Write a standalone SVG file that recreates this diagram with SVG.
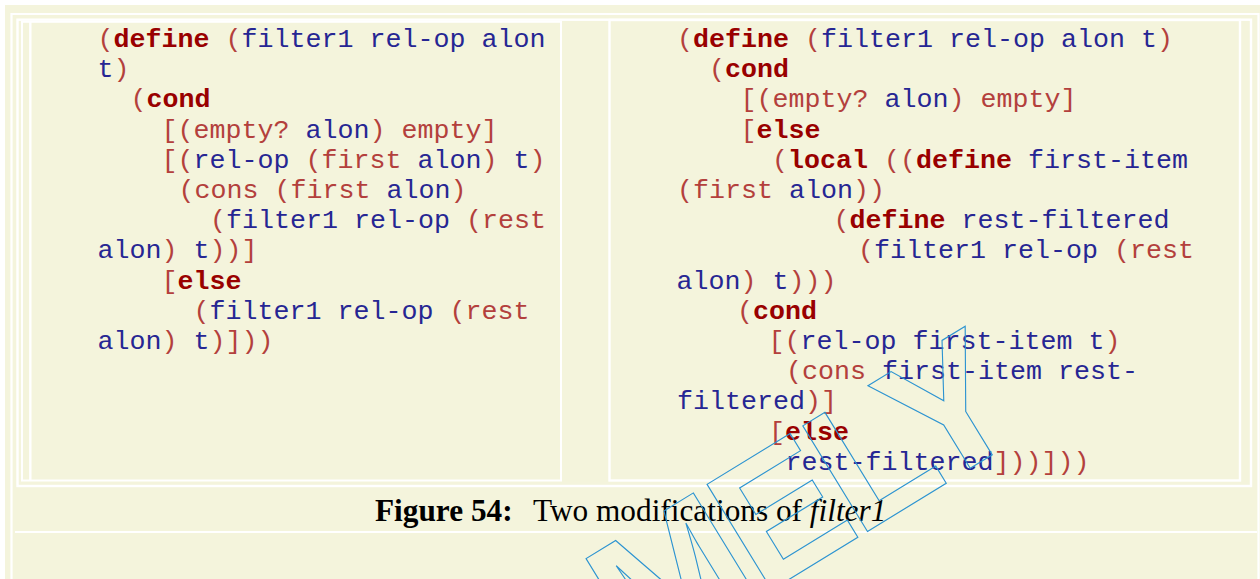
<svg xmlns="http://www.w3.org/2000/svg" width="1260" height="579" viewBox="0 0 1260 579">
<style>
.bg{fill:#f4f4dc}
.ln{fill:none;stroke:#ffffff}
.c{font-family:"Liberation Mono","Courier New",monospace;font-size:26.67px;white-space:pre}
.b{fill:#262693}
.r{fill:#b3403c}
.k{fill:#990000;font-weight:bold}
.cap{font-family:"Liberation Serif","Times New Roman",serif;font-size:31.3px;fill:#000000;white-space:pre}
.wm{font-family:"Liberation Sans",Arial,sans-serif;font-weight:bold;font-size:180px;fill:none;stroke:#2b93d1;stroke-width:1.1}
</style>
<rect x="0" y="0" width="1260" height="579" fill="#ffffff"/>
<rect class="bg" x="5" y="5" width="1255" height="574"/>
<g id="frames">
<path class="ln" stroke-width="2.2" d="M11.5 579 V14 H1258.5 V579"/>
<rect class="ln" stroke-width="2.4" x="17.5" y="19.7" width="1233.5" height="466.3"/>
<path class="ln" stroke-width="2" d="M15 532 H1257"/>
</g>
<g id="left-cell">
<rect class="ln" stroke-width="2" x="22" y="21.8" width="539" height="458.7"/>
<line class="ln" stroke-width="2.4" x1="30.3" y1="22" x2="30.3" y2="480"/>
<text class="c" y="47"><tspan x="97.5" class="r">(</tspan><tspan class="k">define</tspan><tspan class="r"> (</tspan><tspan class="b">filter1 rel-op alon</tspan></text>
<text class="c" y="77.2"><tspan x="97.5" class="b">t</tspan><tspan class="r">)</tspan></text>
<text class="c" y="107.4"><tspan x="130.5" class="r">(</tspan><tspan class="k">cond</tspan></text>
<text class="c" y="137.6"><tspan x="161.5" class="r">[(empty?</tspan><tspan class="b"> alon</tspan><tspan class="r">) empty]</tspan></text>
<text class="c" y="167.8"><tspan x="161.5" class="r">[(</tspan><tspan class="b">rel-op</tspan><tspan class="r"> (first</tspan><tspan class="b"> alon</tspan><tspan class="r">)</tspan><tspan class="b"> t</tspan><tspan class="r">)</tspan></text>
<text class="c" y="198"><tspan x="178.5" class="r">(cons (first</tspan><tspan class="b"> alon</tspan><tspan class="r">)</tspan></text>
<text class="c" y="228.2"><tspan x="210" class="r">(</tspan><tspan class="b">filter1 rel-op</tspan><tspan class="r"> (rest</tspan></text>
<text class="c" y="258.4"><tspan x="97.5" class="b">alon</tspan><tspan class="r">)</tspan><tspan class="b"> t</tspan><tspan class="r">))]</tspan></text>
<text class="c" y="288.6"><tspan x="161.5" class="r">[</tspan><tspan class="k">else</tspan></text>
<text class="c" y="318.8"><tspan x="193.5" class="r">(</tspan><tspan class="b">filter1 rel-op</tspan><tspan class="r"> (rest</tspan></text>
<text class="c" y="349"><tspan x="97.5" class="b">alon</tspan><tspan class="r">)</tspan><tspan class="b"> t</tspan><tspan class="r">)]))</tspan></text>
</g>
<g id="right-cell">
<rect class="ln" stroke-width="2.4" x="609.5" y="20" width="630.5" height="460.5"/>
<text class="c" y="47"><tspan x="677" class="r">(</tspan><tspan class="k">define</tspan><tspan class="r"> (</tspan><tspan class="b">filter1 rel-op alon t</tspan><tspan class="r">)</tspan></text>
<text class="c" y="77.2"><tspan x="709" class="r">(</tspan><tspan class="k">cond</tspan></text>
<text class="c" y="107.4"><tspan x="740.5" class="r">[(empty?</tspan><tspan class="b"> alon</tspan><tspan class="r">) empty]</tspan></text>
<text class="c" y="137.6"><tspan x="740.5" class="r">[</tspan><tspan class="k">else</tspan></text>
<text class="c" y="167.8"><tspan x="772" class="r">(</tspan><tspan class="k">local</tspan><tspan class="r"> ((</tspan><tspan class="k">define</tspan><tspan class="b"> first-item</tspan></text>
<text class="c" y="198"><tspan x="677" class="r">(first</tspan><tspan class="b"> alon</tspan><tspan class="r">))</tspan></text>
<text class="c" y="228.2"><tspan x="833.5" class="r">(</tspan><tspan class="k">define</tspan><tspan class="b"> rest-filtered</tspan></text>
<text class="c" y="258.4"><tspan x="858" class="r">(</tspan><tspan class="b">filter1 rel-op</tspan><tspan class="r"> (rest</tspan></text>
<text class="c" y="288.6"><tspan x="676.5" class="b">alon</tspan><tspan class="r">)</tspan><tspan class="b"> t</tspan><tspan class="r">)))</tspan></text>
<text class="c" y="318.8"><tspan x="737" class="r">(</tspan><tspan class="k">cond</tspan></text>
<text class="c" y="349"><tspan x="768.5" class="r">[(</tspan><tspan class="b">rel-op first-item t</tspan><tspan class="r">)</tspan></text>
<text class="c" y="379.2"><tspan x="786" class="r">(cons</tspan><tspan class="b"> first-item rest-</tspan></text>
<text class="c" y="409.4"><tspan x="677" class="b">filtered</tspan><tspan class="r">)]</tspan></text>
<text class="c" y="439.6"><tspan x="769" class="r">[</tspan><tspan class="k">else</tspan></text>
<text class="c" y="469.8"><tspan x="785.5" class="b">rest-filtered</tspan><tspan class="r">]))]))</tspan></text>
</g>
<g id="caption">
<text class="cap" y="521"><tspan x="375" font-weight="bold">Figure 54:</tspan><tspan x="533">Two modifications of </tspan><tspan font-style="italic">filter1</tspan></text>
</g>
<g id="watermark">
<text class="wm" letter-spacing="-8" transform="translate(640.6,670.4) rotate(-31.5)">MELY</text>
</g>
</svg>
